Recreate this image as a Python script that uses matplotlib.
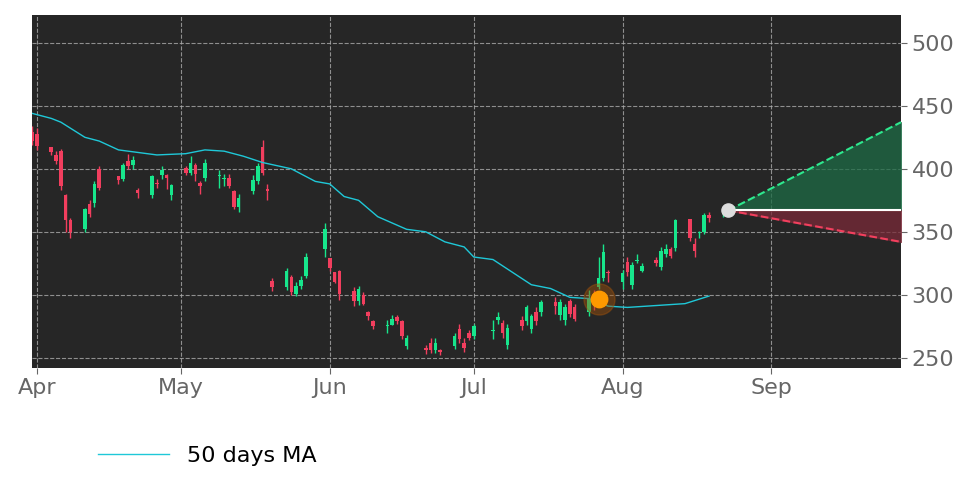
import matplotlib
matplotlib.use("Agg")
import matplotlib.pyplot as plt
import matplotlib.dates as mdates
import numpy as np
import pandas as pd

hol = ["2022-04-15", "2022-05-30", "2022-06-20", "2022-07-04"]
cbd = pd.offsets.CustomBusinessDay(holidays=hol)

opens = [425,429,428,417,411,414,379,359,352,372,373,400,394,392,406,403,383,379,389,395,
         395,379,401,397,403,389,393,394,392,393,382,370,382,390,417,384,
         311,306,314,301,307,315,336,329,318,319,303,295,300,286,279,275,276,282,279,259,
         258,262,256,256,259,273,262,270,267,271,280,278,260,280,279,273,286,286,294,284,
         280,295,290,286,300,306,313,318,310,326,308,327,319,328,322,332,336,337,360,340,
         349,350,363,364]
closes = [430,422,418,413,406,386,359,350,368,364,388,385,391,403,402,407,381,394,388,399,
          393,387,397,405,396,386,405,395,393,386,370,377,391,402,397,382,
          306,319,302,307,312,330,352,321,310,301,295,305,293,283,275,276,281,279,267,266,
          256,256,262,255,267,265,258,266,275,272,282,270,274,275,290,283,279,294,291,294,
          290,285,281,297,296,313,334,317,317,318,324,328,323,325,335,336,331,359,345,335,
          350,363,361,367]
highs = [433,434,432,417,414,416,380,361,369,375,390,402,394,405,412,410,385,395,392,402,
         396,388,402,410,405,390,408,399,396,396,383,380,395,405,423,388,
         313,321,316,310,315,333,357,327,317,320,306,307,302,287,280,280,284,284,280,268,
         260,266,266,257,270,277,266,272,277,280,286,280,277,283,292,285,290,296,298,297,
         293,297,293,304,304,330,340,320,320,330,326,332,325,330,338,340,338,360,360,345,
         351,365,366,370]
lows = [423,419,415,411,404,383,350,345,350,362,370,383,388,390,400,400,377,377,385,392,
        384,375,395,395,390,380,390,385,386,385,368,366,380,388,395,375,
        303,304,300,299,305,313,330,319,309,296,291,292,292,280,273,270,276,277,265,257,
        253,254,254,252,257,262,255,264,265,265,277,266,257,272,276,270,276,283,285,280,
        276,282,279,283,288,305,311,310,305,315,305,325,318,323,320,330,329,335,343,330,
        345,348,358,362]

dates = list(pd.date_range("2022-03-30", periods=36, freq=cbd)) + \
        list(pd.date_range(end="2022-08-22", periods=64, freq=cbd))

ma_dates = ["2022-03-31","2022-04-04","2022-04-06","2022-04-11","2022-04-14","2022-04-18",
            "2022-04-22","2022-04-26","2022-05-02","2022-05-06","2022-05-10","2022-05-14",
            "2022-05-18","2022-05-24","2022-05-29","2022-06-01","2022-06-04","2022-06-07",
            "2022-06-11","2022-06-17","2022-06-21","2022-06-25","2022-06-29","2022-07-01",
            "2022-07-05","2022-07-09","2022-07-13","2022-07-17","2022-07-21","2022-07-25",
            "2022-07-29","2022-08-02","2022-08-06","2022-08-10","2022-08-14","2022-08-19"]
ma_vals = [444,440,437,425,422,415,413,411,412,415,414,410,405,400,390,388,378,375,362,352,
           350,342,338,330,328,318,308,305,298,297,291,290,291,292,293,299]

signal_date, signal_val = "2022-07-27", 297
last_date, last_val = "2022-08-23", 367
end_date, up_end, down_end = "2022-09-28", 437, 342

fig = plt.figure(figsize=(9.72, 4.86), dpi=100)
ax = fig.add_axes([0.033, 0.243, 0.894, 0.726])
ax.set_facecolor("#262626")

up_c, dn_c = "#17e68c", "#f23e5e"
for d, o, h, l, c in zip(dates, opens, highs, lows, closes):
    col = up_c if c >= o else dn_c
    h = max(h, o, c); l = min(l, o, c)
    ax.vlines(d, l, h, color=col, lw=1, zorder=3)
    ax.bar(d, abs(c - o) if abs(c - o) > 0.8 else 0.8, bottom=min(o, c), width=0.75,
           color=col, zorder=4)

ax.plot(pd.to_datetime(ma_dates), ma_vals, color="#1fc8d8", lw=1, zorder=5, label="50 days MA")

ld, ed = pd.Timestamp(last_date), pd.Timestamp(end_date)
ax.fill_between([ld, ed], [last_val, last_val], [last_val, up_end], color="#1d6b45", alpha=0.75, zorder=2)
ax.fill_between([ld, ed], [last_val, last_val], [last_val, down_end], color="#7a2a38", alpha=0.75, zorder=2)
ax.plot([ld, ed], [last_val, up_end], color="#2ee88e", ls="--", lw=1.5, zorder=6)
ax.plot([ld, ed], [last_val, down_end], color="#f2405e", ls="--", lw=1.5, zorder=6)
ax.plot([ld, ed], [last_val, last_val], color="white", lw=1.5, zorder=6)
ax.scatter([ld], [last_val], s=90, color="#dddddd", zorder=7)

sd = pd.Timestamp(signal_date)
ax.scatter([sd], [signal_val], s=500, color="#a0520a", alpha=0.45, zorder=7)
ax.scatter([sd], [signal_val], s=140, color="#ff9900", zorder=8)

ax.set_xlim(pd.Timestamp("2022-03-31"), ed)
ax.set_ylim(242, 522)
ax.yaxis.tick_right()
ax.set_yticks([250, 300, 350, 400, 450, 500])
ax.xaxis.set_major_locator(mdates.MonthLocator())
ax.xaxis.set_major_formatter(mdates.DateFormatter("%b"))
ax.tick_params(colors="#666666", labelsize=16, length=4)
ax.grid(True, color="#aaaaaa", ls="--", lw=0.8, alpha=0.8)
for s in ax.spines.values():
    s.set_visible(False)

fig.legend(handles=ax.get_lines()[:1], loc="lower left", bbox_to_anchor=(0.08, 0.0),
           frameon=False, fontsize=16, handlelength=3.2)
fig.savefig("out.png", dpi=100)
